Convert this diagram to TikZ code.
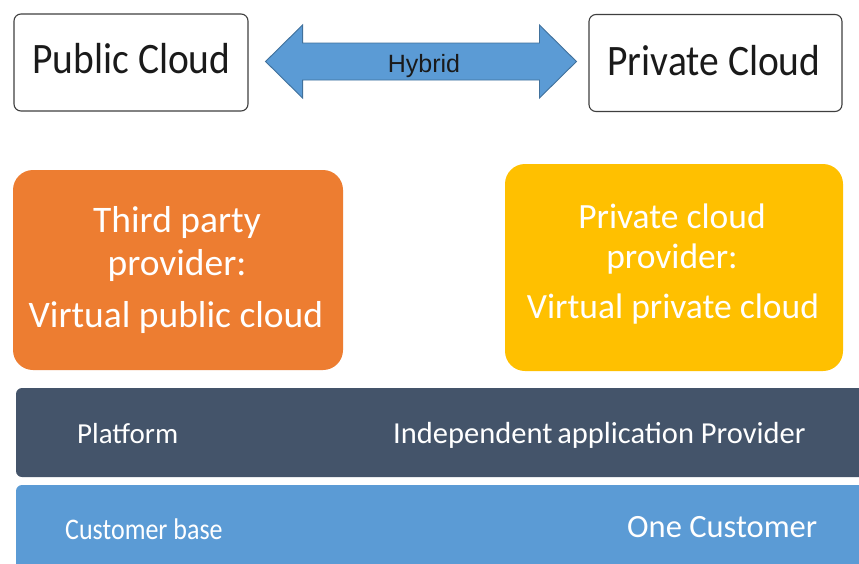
\documentclass[tikz,border=0pt]{standalone}
\usepackage{fontspec}
\usepackage{graphicx}
\setmainfont{Carlito}
\newfontfamily\arialfont{Liberation Sans}
\usetikzlibrary{calc}

\definecolor{cloudline}{HTML}{3F3F3F}
\definecolor{arrowfill}{HTML}{5B9BD5}
\definecolor{arrowline}{HTML}{41719C}
\definecolor{orangebox}{HTML}{ED7D31}
\definecolor{yellowbox}{HTML}{FFC000}
\definecolor{platformbar}{HTML}{44546A}
\definecolor{customerbar}{HTML}{5B9BD5}
\definecolor{inktext}{HTML}{1A1A1A}

\newcommand{\fsz}[1]{\fontsize{#1}{#1}\selectfont}

\begin{document}
\begin{tikzpicture}[x=1pt,y=-1pt,
  cloudbox/.style={draw=cloudline, line width=1.1pt, fill=white, rounded corners=7pt,
    minimum width=#1, inner sep=0pt, minimum height=97pt},
  provbox/.style={fill=#1, rounded corners=20pt, inner sep=0pt},
  barbox/.style={fill=#1, rounded corners=6pt, inner sep=0pt},
  label/.style={inner sep=0pt, text=white},
  cloudtxt/.style={inner sep=0pt, text=inktext, anchor=base, font=\fsz{39.5}},
]
  \clip (0,0) rectangle (859,563);
  \fill[white] (0,0) rectangle (859,563);

  % deployment models along the top
  \node[cloudbox=234pt] (public) at (131,62.5) {};
  \node[cloudbox=253pt] (private) at (715.5,63) {};
  \node[cloudtxt] (publictxt) at (131.5,73) {\scalebox{1}[1.1]{Public Cloud}};
  \node[cloudtxt] (privatetxt) at (714,75) {\scalebox{1}[1.1]{Private Cloud}};

  % two-headed block arrow between them
  \coordinate (ltip) at ($(public.east)+(17,-1)$);
  \coordinate (rtip) at ($(private.west)+(-12,-1.5)$);
  \draw[fill=arrowfill, draw=arrowline, line width=0.9pt, line join=miter]
    (ltip) -- ++(37,-36.5) -- ++(0,18) -- ($(rtip)+(-37,-18.5)$) -- ++(0,-18)
    -- (rtip) -- ++(-37,36.5) -- ++(0,-18) -- ($(ltip)+(37,18.5)$) -- ++(0,18) -- cycle;
  \node[inner sep=0pt, text=inktext, anchor=base, font=\arialfont\fsz{25}] (hybrid) at (424,72) {Hybrid};

  % provider boxes
  \path[provbox=orangebox] (13,170) rectangle (343,370);
  \node[inner sep=0pt, minimum width=330pt, minimum height=200pt] (thirdparty) at (178,270) {};
  \node[label, anchor=base, font=\fsz{37.5}] (tp1) at ($(thirdparty.center)+(-1,-38)$) {Third party};
  \node[label, anchor=base, font=\fsz{37.5}] (tp2) at ($(thirdparty.center)+(-1,5)$) {provider:};
  \node[label, anchor=base, font=\fsz{37.5}] (tp3) at ($(thirdparty.center)+(-2,57)$) {Virtual public cloud};

  \path[provbox=yellowbox] (505,164) rectangle (843,371);
  \node[inner sep=0pt, minimum width=338pt, minimum height=207pt] (privprov) at (674,267.5) {};
  \node[label, anchor=base, font=\fsz{35.5}] (pp1) at ($(privprov.center)+(-2,-39.5)$) {Private cloud};
  \node[label, anchor=base, font=\fsz{35.5}] (pp2) at ($(privprov.center)+(-2,0.5)$) {provider:};
  \node[label, anchor=base, font=\fsz{35.5}] (pp3) at ($(privprov.center)+(-1,50.5)$) {Virtual private cloud};

  % horizontal layers
  \path[barbox=platformbar] (16,388) rectangle (880,477);
  \path[barbox=customerbar] (16,485) rectangle (880,580);
  \node[label, anchor=base west, font=\fsz{29}] (platform) at (77,443) {Platform};
  \node[label, anchor=base west, font=\fsz{30.5}] (indep) at (393,443) {Independent\hspace{-2pt} application Provider};
  \node[label, anchor=base west, font=\fsz{26}] (custbase) at (65,539) {\scalebox{1}[1.15]{Customer base}};
  \node[label, anchor=base west, font=\fsz{32.5}] (onecust) at (627,537) {One Customer};
\end{tikzpicture}
\end{document}
